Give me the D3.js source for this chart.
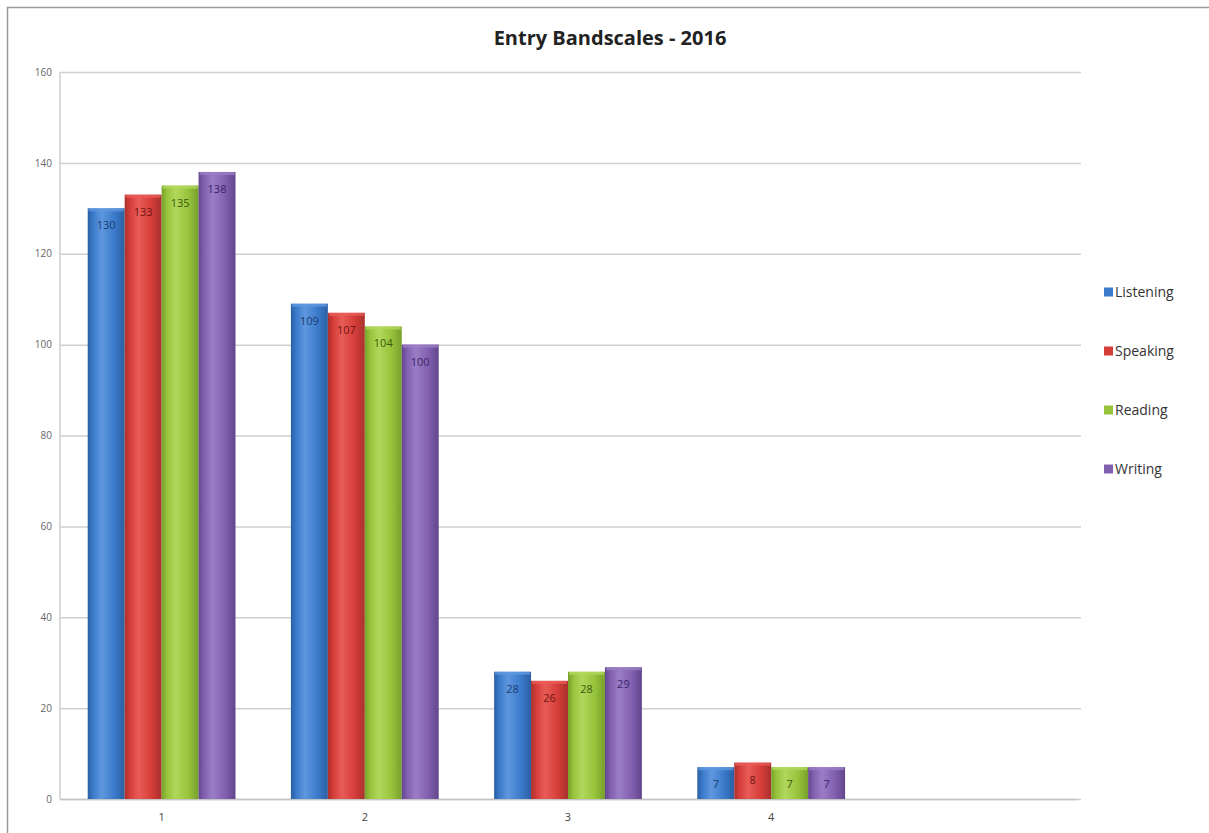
<!DOCTYPE html>
<html>
<head>
<meta charset="utf-8">
<script src="https://cdn.jsdelivr.net/npm/d3@7"></script>
<style>
  html, body { margin: 0; padding: 0; background: #fff; }
  svg { display: block; }
</style>
</head>
<body>
<svg id="chart" width="1209" height="833"></svg>
<script>
// Entry bandscale counts per skill
const categories = ["1", "2", "3", "4", ""];
const seriesNames = ["Listening", "Speaking", "Reading", "Writing"];
const listening = [130, 109, 28, 7];
const speaking  = [133, 107, 26, 8];
const reading   = [135, 104, 28, 7];
const writing   = [138, 100, 29, 7];
const yTicks = [0, 20, 40, 60, 80, 100, 120, 140, 160];

const seriesValues = [listening, speaking, reading, writing];
const colors = {
  Listening: { base: "#3b7bcb", light: "#5f97de", dark: "#2a5fa3", text: "#1a3d70" },
  Speaking:  { base: "#d63e3a", light: "#e85c57", dark: "#a8302c", text: "#6e1412" },
  Reading:   { base: "#98c43c", light: "#b1d75c", dark: "#77a02a", text: "#3b5a0c" },
  Writing:   { base: "#8160b0", light: "#9a7dc6", dark: "#62468c", text: "#3c2466" }
};

const svg = d3.select("#chart");
const font = "'Open Sans', 'Liberation Sans', sans-serif";

// Outer frame
svg.append("path")
  .attr("d", "M7.5,833 L7.5,7.5 L1209,7.5")
  .attr("fill", "none").attr("stroke", "#9a9a9a").attr("stroke-width", 1.5);

const margin = { left: 60, right: 1076, top: 72, bottom: 799 };

const x = d3.scaleBand().domain(categories).range([margin.left, margin.right]).paddingInner(0).paddingOuter(0);
const x1 = d3.scaleBand().domain(seriesNames).range([0, x.bandwidth()]).paddingOuter(0.75).paddingInner(0);
const y = d3.scaleLinear().domain([0, 160]).range([margin.bottom, margin.top]);

// Gradients for the shaded bars
const defs = svg.append("defs");
seriesNames.forEach((s, i) => {
  const c = colors[s];
  const g = defs.append("linearGradient").attr("id", "g" + i).attr("x1", "0").attr("x2", "1").attr("y1", "0").attr("y2", "0");
  g.append("stop").attr("offset", "0%").attr("stop-color", c.dark);
  g.append("stop").attr("offset", "15%").attr("stop-color", c.base);
  g.append("stop").attr("offset", "38%").attr("stop-color", c.light);
  g.append("stop").attr("offset", "72%").attr("stop-color", c.base);
  g.append("stop").attr("offset", "100%").attr("stop-color", c.dark);
});

// Gridlines
svg.append("g")
  .attr("transform", `translate(${margin.left},0)`)
  .call(d3.axisLeft(y).tickValues(yTicks).tickSize(-(1081 - margin.left)).tickFormat(""))
  .call(g => g.select(".domain").remove())
  .call(g => g.selectAll("line").attr("stroke", "#cfcfcf").attr("stroke-width", 1.5));

// Y axis labels
svg.append("g")
  .attr("transform", `translate(${margin.left - 8},0)`)
  .call(d3.axisLeft(y).tickValues(yTicks).tickSize(0).tickPadding(0))
  .call(g => g.select(".domain").remove())
  .call(g => g.selectAll("text").attr("font-family", font).attr("font-size", 10).attr("fill", "#666").attr("dy", "0.32em"));

// Y axis line
svg.append("line")
  .attr("x1", margin.left).attr("x2", margin.left)
  .attr("y1", margin.top).attr("y2", margin.bottom)
  .attr("stroke", "#cfcfcf").attr("stroke-width", 1.5);

// X axis
svg.append("g")
  .attr("transform", `translate(0,${margin.bottom})`)
  .call(d3.axisBottom(x).tickSize(0).tickPadding(14))
  .call(g => g.select(".domain").attr("stroke", "#c4c4c4").attr("stroke-width", 1.5))
  .call(g => g.selectAll("text").attr("font-family", font).attr("font-size", 11).attr("fill", "#444"));

// Bars
const groups = svg.append("g").selectAll("g")
  .data(categories.filter(c => c !== ""))
  .join("g")
  .attr("transform", c => `translate(${x(c)},0)`);

groups.each(function (c, ci) {
  const g = d3.select(this);
  seriesNames.forEach((s, si) => {
    const v = seriesValues[si][ci];
    const bx = x1(s), bw = x1.bandwidth();
    g.append("rect")
      .attr("x", bx).attr("y", y(v))
      .attr("width", bw).attr("height", y(0) - y(v))
      .attr("fill", `url(#g${si})`);
    // lighter top cap
    g.append("rect")
      .attr("x", bx + 1).attr("y", y(v))
      .attr("width", bw - 2).attr("height", 3)
      .attr("fill", colors[s].light).attr("opacity", 0.8);
    g.append("text")
      .attr("x", bx + bw / 2).attr("y", y(v) + 21)
      .attr("text-anchor", "middle")
      .attr("font-family", font).attr("font-size", 11)
      .attr("fill", colors[s].text)
      .text(v);
  });
});

// Title
svg.append("text")
  .attr("x", 610).attr("y", 45)
  .attr("text-anchor", "middle")
  .attr("font-family", font).attr("font-weight", "bold").attr("font-size", 20)
  .attr("fill", "#222")
  .text("Entry Bandscales - 2016");

// Legend
const legend = svg.append("g").selectAll("g")
  .data(seriesNames).join("g")
  .attr("transform", (d, i) => `translate(1104,${292 + i * 59})`);
legend.append("rect")
  .attr("x", 0).attr("y", -4.5).attr("width", 9).attr("height", 9)
  .attr("fill", d => colors[d].base);
legend.append("text")
  .attr("x", 11).attr("y", 0).attr("dy", "0.35em")
  .attr("font-family", font).attr("font-size", 14).attr("fill", "#333")
  .text(d => d);
</script>
</body>
</html>
